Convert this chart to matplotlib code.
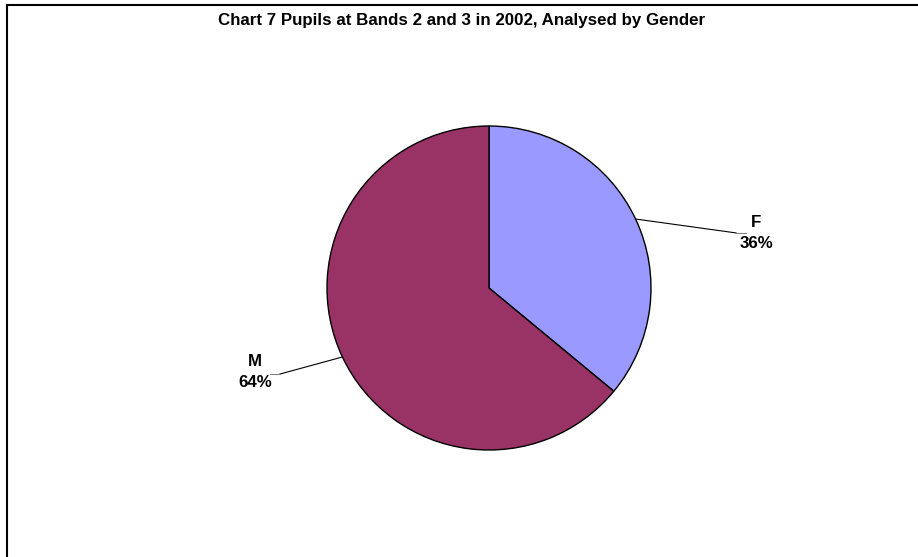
import numpy as np
import matplotlib
matplotlib.use('Agg')
import matplotlib.pyplot as plt
from matplotlib.lines import Line2D

# Chart data
labels = ['F', 'M']
shares = [36, 64]
colors = ['#9999FF', '#993366']
title = 'Chart 7 Pupils at Bands 2 and 3 in 2002, Analysed by Gender'

plt.rcParams['font.family'] = ['Liberation Sans', 'DejaVu Sans']

fig = plt.figure(figsize=(9.18, 5.57), dpi=100)

# outer chart frame (only top and left edges visible)
fig.add_artist(Line2D([7 / 918, 7 / 918], [0, 1 - 5 / 557], transform=fig.transFigure,
                      color='black', lw=1.5))
fig.add_artist(Line2D([7 / 918, 1], [1 - 5 / 557, 1 - 5 / 557], transform=fig.transFigure,
                      color='black', lw=1.5))

fig.text(462 / 918, 1 - 20 / 557, title, ha='center', va='center',
         fontsize=12.2, fontweight='bold')

# pie axes: centre (489, 288) px, radius 162 px
cx, cy, r = 489, 288, 162
ax = fig.add_axes([(cx - r) / 918, (557 - cy - r) / 557, 2 * r / 918, 2 * r / 557])
wedges, _ = ax.pie(shares, colors=colors, startangle=90, counterclock=False,
                   wedgeprops=dict(edgecolor='black', linewidth=1.0))
ax.set_xlim(-1, 1)
ax.set_ylim(-1, 1)
ax.set_aspect('equal')

# labels with leader lines
lead_end = {'F': (1.525, 0.34), 'M': (-1.29, -0.531)}
text_pos = {'F': (1.65, 0.34), 'M': (-1.445, -0.52)}
for w, lab, val in zip(wedges, labels, shares):
    ang = np.deg2rad((w.theta1 + w.theta2) / 2)
    x0, y0 = np.cos(ang), np.sin(ang)
    x1, y1 = lead_end[lab]
    ax.plot([x0, x1], [y0, y1], color='black', lw=0.8, clip_on=False)
    side = 1 if x1 > 0 else -1
    ax.plot([x1, x1 + side * 0.06], [y1, y1], color='grey', lw=0.8, clip_on=False)
    tx, ty = text_pos[lab]
    ax.text(tx, ty, f'{lab}\n{val}%', ha='center', va='center', fontsize=12.2,
            fontweight='bold', linespacing=1.5, clip_on=False)

fig.savefig('out.png', dpi=100)
